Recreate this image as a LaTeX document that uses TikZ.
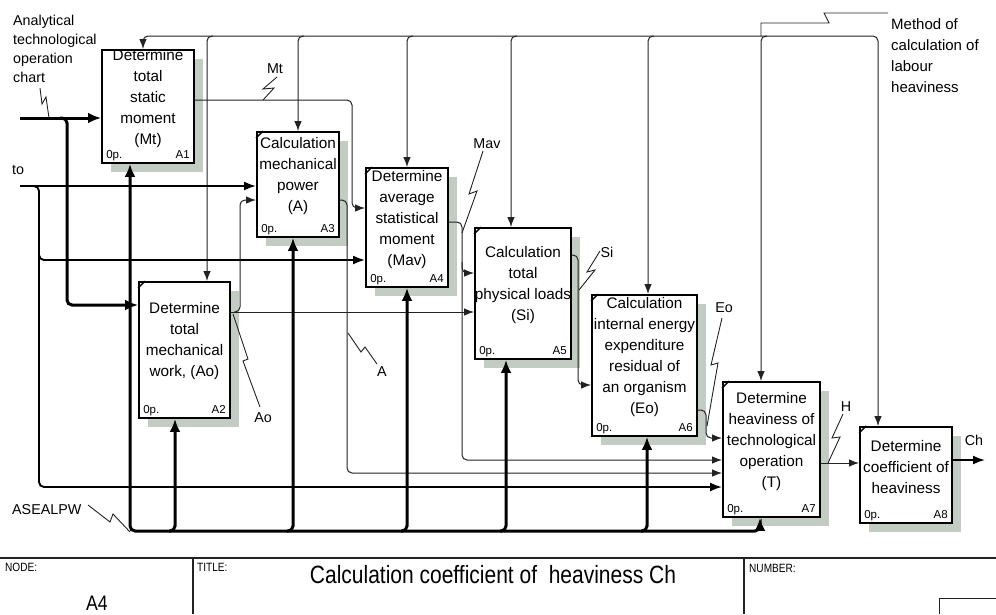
\documentclass[tikz,border=0pt]{standalone}
\usepackage{fontspec}
\setmainfont{Liberation Sans}
\newfontfamily\narrowsf[FakeStretch=0.84]{Liberation Sans}
\usetikzlibrary{arrows.meta,shadows,calc}
\definecolor{shade}{HTML}{C2CCC2}
\definecolor{wirec}{HTML}{222222}

\begin{document}
\begin{tikzpicture}[x=1pt,y=-1pt,
  box/.style={draw=black, line width=1.9pt, fill=white, inner sep=0pt,
    drop shadow={shadow xshift=9pt, shadow yshift=-9pt, fill=shade, draw=none, opacity=1}},
  boxtext/.style={font=\fontsize{15.3}{21}\selectfont, align=center, inner sep=0pt},
  tag/.style={font=\fontsize{11.5}{13}\selectfont, inner sep=0pt},
  tick/.style={draw=black, line width=1.4pt},
  flow/.style={draw=wirec, line width=1pt, rounded corners=5pt},
  tin/.style={-{Latex[length=10pt,width=7.5pt]}},
  medflow/.style={draw=black, line width=1.9pt, rounded corners=5pt, -{Latex[length=12pt,width=9pt]}},
  heavy/.style={draw=black, line width=3pt, rounded corners=5pt, -{Latex[length=13pt,width=11pt]}},
  squig/.style={draw=wirec, line width=0.9pt},
  lbl/.style={font=\fontsize{14.3}{19}\selectfont, inner sep=0pt},
  hdr/.style={font=\narrowsf\fontsize{12}{14}\selectfont, inner sep=0pt, anchor=west},
]
\useasboundingbox (0,0) rectangle (996,614);

% ---------- activity boxes ----------
\node[box, minimum width=92pt,  minimum height=113pt] (A1) at (148,106.5) {};
\node[box, minimum width=91pt,  minimum height=136pt] (A2) at (184.5,350) {};
\node[box, minimum width=82pt,  minimum height=105pt] (A3) at (298,184.5) {};
\node[box, minimum width=82pt,  minimum height=119pt] (A4) at (407,227.5) {};
\node[box, minimum width=96pt,  minimum height=131pt] (A5) at (523,293.5) {};
\node[box, minimum width=105pt, minimum height=141pt] (A6) at (644.5,365.5) {};
\node[box, minimum width=97pt,  minimum height=135pt] (A7) at (771.5,449.5) {};
\node[box, minimum width=92pt,  minimum height=96pt]  (A8) at (906,475) {};

\node[boxtext] (A1t) at ($(A1.center)+(0,-8)$) {Determine\\total\\static\\moment\\(Mt)};
\node[boxtext] (A2t) at ($(A2.center)+(0,-9)$) {Determine\\total\\mechanical\\work, (Ao)};
\node[boxtext] (A3t) at ($(A3.center)+(0,-8)$) {Calculation\\mechanical\\power\\(A)};
\node[boxtext] (A4t) at ($(A4.center)+(0,-8)$) {Determine\\average\\statistical\\moment\\(Mav)};
\node[boxtext] (A5t) at ($(A5.center)+(0,-8)$) {Calculation\\total\\physical loads\\(Si)};
\node[boxtext] (A6t) at ($(A6.center)+(0,-8)$) {Calculation\\internal energy\\expenditure\\residual of\\an organism\\(Eo)};
\node[boxtext] (A7t) at ($(A7.center)+(0,-8)$) {Determine\\heaviness of\\technological\\operation\\(T)};
\node[boxtext] (A8t) at ($(A8.center)+(0,-8)$) {Determine\\coefficient of\\heaviness};

\foreach \n in {1,...,8} {
  \node[tag, anchor=base west] (op\n) at ($(A\n.south west)+(5,-5)$) {0p.};
  \node[tag, anchor=base east] (id\n) at ($(A\n.south east)+(-5,-5)$) {A\n};
}
\foreach \n in {2,...,8} {
  \draw[tick] ($(A\n.north west)+(0,7)$) -- ($(A\n.north west)+(7,0)$);
}

% ---------- free ends and junctions ----------
\coordinate (inChart) at (20,118);
\coordinate (inTo)    at (20,186);
\coordinate (outCh)   at (985,460);
\coordinate (ctlMid)  at (500,36);
\coordinate (ctlJ)    at (761,36);
\coordinate (mechMid) at (300,531);
\coordinate (mechJ)   at (130,532);

% ---------- controls ----------
\draw[flow,tin] (ctlMid) -| (A1.north -| 143,0);
\draw[flow,tin] (ctlMid) -| (A8.north -| 878,0);
\draw[flow,tin] (213,36) -| (A2.north -| 207,0);
\draw[flow,tin] (304,36) -| (A3.north -| 298,0);
\draw[flow,tin] (413,36) -| (A4.north -| 407,0);
\draw[flow,tin] (517,36) -| (A5.north -| 511,0);
\draw[flow,tin] (654,36) -| (A6.north -| 648,0);
\draw[flow,tin] (767,36) -| (A7.north -| 761,0);

% ---------- inputs ----------
\draw[heavy] (inChart) -- (A1.west |- 0,118);
\draw[heavy] (60,118) -| (67,305) -- (A2.west |- 0,305);
\draw[medflow] (inTo) -- (A3.west |- 0,186);
\draw[medflow] (33,186) -| (39,487) -- (A7.west |- 0,487);
\draw[medflow] (39,250) |- (A4.west |- 0,260);

% ---------- flows between activities ----------
\draw[flow,tin] (A1.east |- 0,100) -| (352,208) -- (A4.west |- 0,208);
\draw[flow,tin] (A3.east |- 0,200) -| (347,473) -- (A7.west |- 0,473);
\draw[flow,tin] (A2.east |- 0,312) -- (A5.west |- 0,312);
\draw[flow,tin] (234,312) -| (240,200) -- (A3.west |- 0,200);
\draw[flow,tin] (A4.east |- 0,222) -| (462,460) -- (A7.west |- 0,460);
\draw[flow,tin] (462,262) |- (A5.west |- 0,273);
\draw[flow,tin] (A5.east |- 0,255) -| (578,385) -- (A6.west |- 0,385);
\draw[flow,tin] (A6.east |- 0,410) -| (706,438) -- (A7.west |- 0,438);
\draw[flow,tin] (A7.east |- 0,463) -- (A8.west |- 0,463);
\draw[medflow] (A8.east |- 0,460) -- (outCh);

% ---------- mechanisms ----------
\draw[heavy] (mechMid) -| (A1.south -| 130,0);
\draw[heavy] (mechMid) -| (A7.south -| 760,0);
\draw[heavy] (169,531) -| (A2.south -| 175,0);
\draw[heavy] (287,531) -| (A3.south -| 293,0);
\draw[heavy] (401,531) -| (A4.south -| 407,0);
\draw[heavy] (500,531) -| (A5.south -| 506,0);
\draw[heavy] (641,531) -| (A6.south -| 647,0);

% ---------- arrow labels with squiggles ----------
\node[lbl, anchor=north west, align=left] (lChart) at (13,15) {Analytical\\technological\\operation\\chart};
\draw[squig] (40,88) -- (42,104) -- (46,97) -- (49,118);
\node[lbl] (lTo) at (18,170) {to};
\node[lbl] (lMt) at (275,69) {Mt};
\draw[squig] (277,77) -- (263,89) -- (274,88) -- (263,100);
\node[lbl] (lMav) at (487,144) {Mav};
\draw[squig] (483,151) -- (469,194) -- (477,191) -- (462,233);
\node[lbl] (lSi) at (607,252) {Si};
\draw[squig] (600,251) -- (587,272) -- (595,270) -- (579,290);
\node[lbl] (lEo) at (724,308) {Eo};
\draw[squig] (722,318) -- (711,365) -- (718,363) -- (707,426);
\node[lbl] (lH) at (846,407) {H};
\draw[squig] (843,414) -- (832,438) -- (840,437) -- (828,463);
\node[lbl] (lCh) at (974,440) {Ch};
\node[lbl] (lAo) at (263,418) {Ao};
\draw[squig] (233,314) -- (248,359) -- (243,361) -- (260,407);
\node[lbl] (lA) at (382,372) {A};
\draw[squig] (348,333) -- (361,352) -- (365,347) -- (377,364);
\node[lbl, anchor=west] (lMech) at (12,510) {ASEALPW};
\draw[squig] (88,505) -- (110,522) -- (113,514) -- (mechJ);
\node[lbl, anchor=north west, align=left, font=\fontsize{15}{21}\selectfont] (lMethod) at (891,18) {Method of\\calculation of\\labour\\heaviness};
\draw[squig] (888,13) -- (824,13) -- (829,23) -- (761,23) -- (ctlJ);

% ---------- title block ----------
\draw[draw=wirec, line width=1.4pt] (0,558) -- (996,558);
\draw[draw=wirec, line width=1.2pt] (193,558) -- (193,614);
\draw[draw=wirec, line width=1.2pt] (744,558) -- (744,614);
\draw[draw=wirec, line width=1pt] (996,598) -- (939,598) -- (939,614);
\node[hdr] (hNode) at (5,567) {NODE:};
\node[hdr] (hTitle) at (197,567) {TITLE:};
\node[hdr] (hNumber) at (749,568) {NUMBER:};
\node[inner sep=0pt, font=\narrowsf\fontsize{25}{28}\selectfont] (tTitle) at (493,575) {Calculation coefficient of\ \ heaviness Ch};
\node[inner sep=0pt, text depth=0pt, anchor=south, font=\narrowsf\fontsize{21}{24}\selectfont] (tNode) at (97,611) {A4};
\end{tikzpicture}
\end{document}
